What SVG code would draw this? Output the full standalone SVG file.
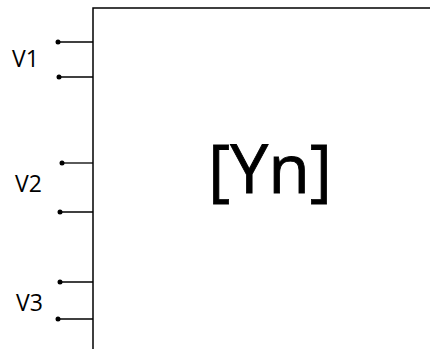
<svg xmlns="http://www.w3.org/2000/svg" width="430" height="349" viewBox="0 0 430 349">
<style>
.box{fill:#fff;stroke:#000;stroke-width:1.5}
.lead{stroke:#000;stroke-width:1.3}
.dot{fill:#000}
.lbl{font-family:"Open Sans",sans-serif;font-size:23px;fill:#000}
.big{font-family:"Open Sans",sans-serif;font-size:68px;fill:#000;stroke:#000;stroke-width:0.8}
</style>
<rect width="430" height="349" fill="#fff"/>
<g id="block">
<rect class="box" x="93" y="8" width="360" height="360"/>
<text class="big" x="270" y="193" text-anchor="middle">[Yn]</text>
</g>
<g id="connectors">
<line class="lead" x1="58" y1="42" x2="93" y2="42"/>
<line class="lead" x1="59" y1="77" x2="93" y2="77"/>
<line class="lead" x1="62" y1="163" x2="93" y2="163"/>
<line class="lead" x1="60" y1="212" x2="93" y2="212"/>
<line class="lead" x1="60" y1="282" x2="93" y2="282"/>
<line class="lead" x1="58" y1="319" x2="93" y2="319"/>
</g>
<g id="port-V1">
<circle class="dot" cx="58" cy="42" r="2.5"/>
<circle class="dot" cx="59" cy="77" r="2.5"/>
<text class="lbl" x="12" y="67">V1</text>
</g>
<g id="port-V2">
<circle class="dot" cx="62" cy="163" r="2.5"/>
<circle class="dot" cx="60" cy="212" r="2.5"/>
<text class="lbl" x="15" y="192">V2</text>
</g>
<g id="port-V3">
<circle class="dot" cx="60" cy="282" r="2.5"/>
<circle class="dot" cx="58" cy="319" r="2.5"/>
<text class="lbl" x="16" y="311">V3</text>
</g>
</svg>
